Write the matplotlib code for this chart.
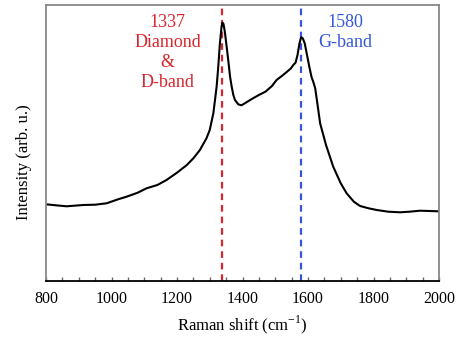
import matplotlib
matplotlib.use('Agg')
import matplotlib.pyplot as plt
from matplotlib.ticker import MultipleLocator

plt.rcParams['font.family'] = ['Liberation Serif', 'DejaVu Serif']
plt.rcParams['mathtext.fontset'] = 'custom'
plt.rcParams['mathtext.rm'] = 'Liberation Serif'

# Raman spectrum (intensity in arbitrary units)
shift = [800, 830, 863, 914, 950, 985, 1020, 1046, 1080, 1107, 1140, 1168,
         1200, 1230, 1250, 1270, 1290, 1300, 1311, 1321, 1326, 1331, 1336,
         1339, 1342, 1346, 1351, 1357, 1362, 1367, 1372, 1377, 1387, 1397,
         1410, 1430, 1450, 1470, 1490, 1504, 1520, 1535, 1548, 1555, 1562,
         1568, 1574, 1579, 1584, 1590, 1597, 1604, 1611, 1616, 1622, 1630,
         1637, 1655, 1677, 1700, 1718, 1740, 1759, 1785, 1810, 1845, 1881,
         1910, 1942, 1970, 2000]
intensity = [76.7, 75.7, 74.7, 76.0, 76.3, 77.7, 81.7, 84.3, 88.3, 92.7, 96.0,
             101.0, 108.3, 116.0, 122.7, 131.0, 142.7, 151.0, 167.7, 194.3,
             214.3, 237.7, 254.3, 258.3, 257.0, 249.3, 236.0, 219.3, 204.3,
             194.3, 186.0, 181.0, 176.7, 175.7, 178.3, 182.3, 186.0, 189.3,
             195.0, 201.0, 205.0, 209.0, 212.7, 216.0, 218.3, 226.0, 237.7,
             243.7, 242.7, 237.7, 226.0, 214.3, 203.7, 199.3, 192.7, 174.3,
             157.7, 136.0, 114.3, 97.7, 87.7, 79.3, 75.0, 72.7, 71.0, 69.3,
             68.7, 69.3, 70.3, 70.0, 69.7]

d_band = 1337
g_band = 1580
red = '#d8262e'
blue = '#3556dc'

fig = plt.figure(figsize=(4.61, 3.38), dpi=100)
ax = fig.add_axes([46 / 461, 57 / 338, 393 / 461, 276 / 338])

ax.axvline(d_band, color=red, lw=1.6, ls=(0, (3, 2.2)), zorder=1)
ax.axvline(g_band, color=blue, lw=1.6, ls=(0, (3, 2.2)), zorder=1)
ax.plot(shift, intensity, color='black', lw=1.5, zorder=2)

ax.text(1172, 267, '1337\nDiamond\n&\nD-band', color=red, fontsize=13,
        ha='center', va='top', linespacing=1.22)
ax.text(1713, 267, '1580\nG-band', color=blue, fontsize=13,
        ha='center', va='top', linespacing=1.22)

ax.set_xlim(800, 2000)
ax.set_ylim(0, 276)
ax.xaxis.set_major_locator(MultipleLocator(200))
ax.xaxis.set_minor_locator(MultipleLocator(50))
ax.set_yticks([])
ax.tick_params(axis='x', which='both', direction='in', length=3, width=1,
               color='#666666', labelsize=11.5, pad=7)

for side in ['top', 'left', 'right']:
    ax.spines[side].set_color('#888888')
    ax.spines[side].set_linewidth(1.3)
ax.spines['bottom'].set_color('black')
ax.spines['bottom'].set_linewidth(1.3)

ax.set_xlabel('Raman shift (cm$^{\\mathregular{-1}}$)', fontsize=12, labelpad=5)
ax.set_ylabel('Intensity (arb. u.)', fontsize=12)
ax.yaxis.set_label_coords(-0.036, 0.43)

fig.savefig('out.png', dpi=100)
